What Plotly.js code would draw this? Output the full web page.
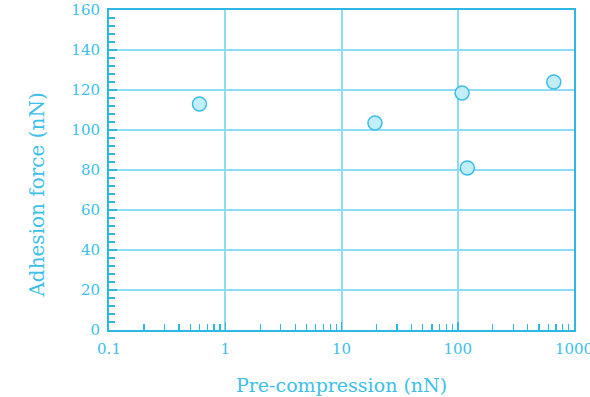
<!DOCTYPE html>
<html>
<head>
<meta charset="utf-8">
<script src="https://cdn.plot.ly/plotly-3.0.1.min.js"></script>
<style>html,body{margin:0;padding:0;background:#fff;}#chart{width:590px;height:397px;}</style>
</head>
<body>
<div id="chart"></div>
<script>
// Data
const preCompression = [0.6, 19.4, 109, 121, 670];   // nN
const adhesionForce  = [113, 103.5, 118.5, 81, 124];  // nN
const xTickVals = [0.1, 1, 10, 100, 1000];
const xTickText = ['0.1', '1', '10', '100', '1000'];
const xMinorTickVals = [0.2,0.3,0.4,0.5,0.6,0.7,0.8,0.9, 2,3,4,5,6,7,8,9, 20,30,40,50,60,70,80,90, 200,300,400,500,600,700,800,900];
const yTickVals = [0, 20, 40, 60, 80, 100, 120, 140, 160];

const axisColor = '#2db7e3';
const gridColor = '#8fdcf2';
const textColor = '#3cc0ea';
const font = 'Century Schoolbook, "DejaVu Serif", serif';

const trace = {
  x: preCompression,
  y: adhesionForce,
  type: 'scatter',
  mode: 'markers',
  marker: {size: 14, color: '#c2eefa', line: {color: '#3bbde6', width: 1.5}},
  hoverinfo: 'x+y'
};

const layout = {
  width: 590, height: 397,
  margin: {l: 109, r: 16, t: 10, b: 67},
  paper_bgcolor: '#fff', plot_bgcolor: '#fff',
  showlegend: false,
  font: {family: font, color: textColor, size: 13},
  xaxis: {
    type: 'log',
    range: [-1, 3],
    tickmode: 'array', tickvals: xTickVals, ticktext: xTickText,
    ticks: 'inside', ticklen: 8, tickcolor: axisColor, tickwidth: 1.5,
    ticklabeloverflow: 'allow', ticklabelstandoff: 4,
    showgrid: true, gridcolor: gridColor, gridwidth: 2,
    showline: true, linecolor: axisColor, linewidth: 2, mirror: true,
    zeroline: false,
    minor: {tickmode: 'array', tickvals: xMinorTickVals, ticks: 'inside', ticklen: 6, tickcolor: axisColor, tickwidth: 1.2, showgrid: false},
    tickfont: {family: font, color: textColor, size: 15}
  },
  yaxis: {
    range: [0, 160],
    tickmode: 'array', tickvals: yTickVals,
    ticks: 'inside', ticklen: 8, tickcolor: axisColor, tickwidth: 1.5,
    ticklabelstandoff: 4,
    showgrid: true, gridcolor: gridColor, gridwidth: 2,
    showline: true, linecolor: axisColor, linewidth: 2, mirror: true,
    zeroline: false,
    minor: {ticks: 'inside', ticklen: 6, tickcolor: axisColor, tickwidth: 1.2, dtick: 4, showgrid: false},
    tickfont: {family: font, color: textColor, size: 15}
  },
  annotations: [
    {text: 'Pre-compression (nN)', xref: 'paper', yref: 'paper', x: 0.5, y: 0,
     xanchor: 'center', yanchor: 'middle', yshift: -55, showarrow: false,
     font: {family: font, color: textColor, size: 19}},
    {text: 'Adhesion force (nN)', xref: 'paper', yref: 'paper', x: 0, y: 0.42,
     xanchor: 'center', yanchor: 'middle', xshift: -72, textangle: -90, showarrow: false,
     font: {family: font, color: textColor, size: 20}}
  ]
};

Plotly.newPlot('chart', [trace], layout, {displayModeBar: false, staticPlot: true});
</script>
</body>
</html>
